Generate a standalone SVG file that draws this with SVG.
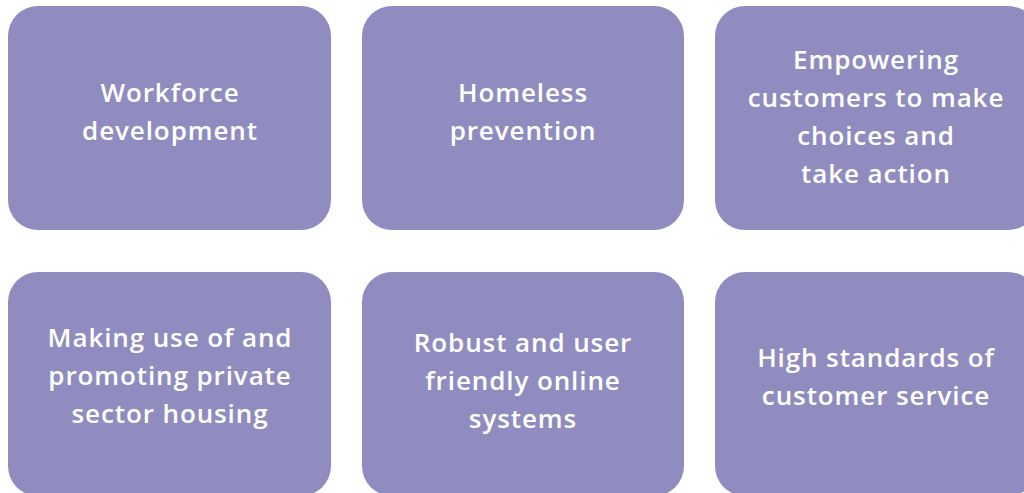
<svg xmlns="http://www.w3.org/2000/svg" width="1024" height="493" viewBox="0 0 1024 493">
<style>
.box{fill:#908CBF;}
.t{font-family:"Open Sans","Liberation Sans",sans-serif;font-weight:600;font-size:26px;letter-spacing:0.9px;fill:#ffffff;text-anchor:middle;}
</style>
<rect width="1024" height="493" fill="#ffffff"/>
<g id="n1"><rect class="box" x="8" y="6" width="323" height="224" rx="30"/>
<text class="t"><tspan x="170" y="102">Workforce</tspan><tspan x="170" y="140">development</tspan></text></g>
<g id="n2"><rect class="box" x="362" y="6" width="322" height="224" rx="30"/>
<text class="t"><tspan x="523" y="102">Homeless</tspan><tspan x="523" y="140">prevention</tspan></text></g>
<g id="n3"><rect class="box" x="715" y="6" width="323" height="224" rx="30"/>
<text class="t"><tspan x="876" y="69">Empowering</tspan><tspan x="876" y="107">customers to make</tspan><tspan x="876" y="145">choices and</tspan><tspan x="876" y="183">take action</tspan></text></g>
<g id="n4"><rect class="box" x="8" y="272" width="323" height="224" rx="30"/>
<text class="t"><tspan x="170" y="347">Making use of and</tspan><tspan x="170" y="385">promoting private</tspan><tspan x="170" y="423">sector housing</tspan></text></g>
<g id="n5"><rect class="box" x="362" y="272" width="322" height="224" rx="30"/>
<text class="t"><tspan x="523" y="352">Robust and user</tspan><tspan x="523" y="390">friendly online</tspan><tspan x="523" y="428">systems</tspan></text></g>
<g id="n6"><rect class="box" x="715" y="272" width="323" height="224" rx="30"/>
<text class="t"><tspan x="876" y="367">High standards of</tspan><tspan x="876" y="405">customer service</tspan></text></g>
<g id="connectors"></g>
</svg>
